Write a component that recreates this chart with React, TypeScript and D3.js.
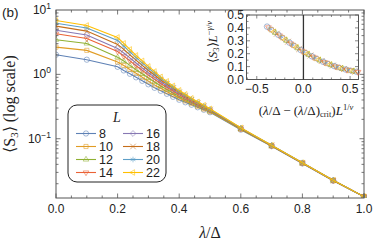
import * as d3 from "d3";

const sizes = [8, 10, 12, 14, 16, 18, 20, 22];
const colors = ["#5e81b5", "#e19c24", "#8fb032", "#eb6235", "#8778b3", "#c56e1a", "#5d9ec7", "#ffbf00"];

// lambda / Delta sample points
const lambdas = [0, 0.1, 0.2, 0.22, 0.24, 0.26, 0.28, 0.3, 0.32, 0.34, 0.36, 0.38, 0.4, 0.42, 0.44, 0.46, 0.48, 0.5, 0.6, 0.7, 0.8, 0.9, 1.0];

const s3L8 = [2.02, 1.69, 1.31, 1.15, 1.02, 0.899, 0.793, 0.7, 0.618, 0.555, 0.499, 0.448, 0.403, 0.368, 0.337, 0.308, 0.282, 0.258, 0.138, 0.0766, 0.0413, 0.0223, 0.0125];
const s3L10 = [2.65, 2.36, 1.56, 1.37, 1.19, 1.04, 0.902, 0.785, 0.687, 0.607, 0.537, 0.481, 0.428, 0.387, 0.352, 0.319, 0.29, 0.263, 0.14, 0.0771, 0.0415, 0.0224, 0.0126];
const s3L12 = [3.45, 3.02, 1.84, 1.61, 1.38, 1.18, 1.02, 0.877, 0.76, 0.661, 0.583, 0.513, 0.453, 0.407, 0.366, 0.33, 0.298, 0.269, 0.142, 0.0776, 0.0418, 0.0224, 0.0126];
const s3L14 = [4.27, 3.6, 2.27, 1.92, 1.62, 1.36, 1.16, 0.982, 0.843, 0.723, 0.631, 0.551, 0.481, 0.428, 0.38, 0.341, 0.307, 0.276, 0.144, 0.0781, 0.042, 0.0225, 0.0126];
const s3L16 = [4.86, 4.1, 2.53, 2.15, 1.8, 1.5, 1.26, 1.06, 0.905, 0.768, 0.666, 0.577, 0.502, 0.443, 0.391, 0.35, 0.313, 0.28, 0.145, 0.0784, 0.0421, 0.0226, 0.0126];
const s3L18 = [5.61, 4.7, 2.92, 2.45, 2.01, 1.66, 1.38, 1.15, 0.979, 0.819, 0.705, 0.609, 0.524, 0.459, 0.404, 0.359, 0.319, 0.284, 0.146, 0.0787, 0.0423, 0.0226, 0.0126];
const s3L20 = [6.24, 5.25, 3.37, 2.75, 2.23, 1.82, 1.51, 1.25, 1.05, 0.87, 0.744, 0.638, 0.545, 0.476, 0.414, 0.367, 0.325, 0.288, 0.147, 0.079, 0.0424, 0.0227, 0.0126];
const s3L22 = [6.87, 5.75, 3.75, 3.03, 2.44, 1.97, 1.62, 1.33, 1.11, 0.915, 0.779, 0.663, 0.565, 0.49, 0.425, 0.375, 0.331, 0.292, 0.148, 0.0793, 0.0425, 0.0227, 0.0126];
const allS3 = [s3L8, s3L10, s3L12, s3L14, s3L16, s3L18, s3L20, s3L22];

// inset: collapsed data
const insetX = [-0.39, -0.375, -0.36, -0.345, -0.33, -0.315, -0.3, -0.285, -0.27, -0.255, -0.24, -0.225, -0.21, -0.195, -0.18, -0.165, -0.15, -0.135, -0.12, -0.105, -0.09, -0.075, -0.06, -0.045, -0.03, -0.015, 0, 0.015, 0.03, 0.045, 0.06, 0.075, 0.09, 0.105, 0.12, 0.135, 0.15, 0.165, 0.18, 0.195, 0.21, 0.225, 0.24, 0.255, 0.27, 0.285, 0.3, 0.315, 0.33, 0.345, 0.36, 0.375, 0.39, 0.405, 0.42, 0.435, 0.45, 0.465, 0.48, 0.495, 0.51, 0.525, 0.54, 0.555, 0.57, 0.585];
const insetY = [0.41, 0.403, 0.395, 0.386, 0.378, 0.37, 0.362, 0.355, 0.347, 0.34, 0.332, 0.324, 0.316, 0.308, 0.301, 0.293, 0.286, 0.278, 0.271, 0.264, 0.257, 0.25, 0.243, 0.236, 0.229, 0.222, 0.216, 0.21, 0.204, 0.198, 0.192, 0.186, 0.18, 0.175, 0.169, 0.163, 0.158, 0.153, 0.148, 0.143, 0.138, 0.133, 0.129, 0.124, 0.12, 0.116, 0.112, 0.108, 0.104, 0.1, 0.097, 0.093, 0.09, 0.087, 0.084, 0.081, 0.078, 0.075, 0.073, 0.07, 0.068, 0.066, 0.064, 0.062, 0.06, 0.058];

const xTicks = [0, 0.2, 0.4, 0.6, 0.8, 1.0];
const insetXTicks = [-0.5, 0, 0.5];
const insetYTicks = [0, 0.1, 0.2, 0.3, 0.4, 0.5];

const W = 374;
const H = 244;
const SANS = "'Liberation Sans', Arial, sans-serif";
const SERIF = "'Liberation Serif', 'Times New Roman', serif";
const FRAME = "#555";

const symbolTypes = [
  { t: d3.symbolCircle, rot: 0 },
  { t: d3.symbolSquare2, rot: 0 },
  { t: d3.symbolTriangle2, rot: 0 },
  { t: d3.symbolTriangle2, rot: 180 },
  { t: d3.symbolDiamond2, rot: 0 },
  { t: d3.symbolTimes, rot: 0 },
  { t: d3.symbolAsterisk, rot: 0 },
  { t: d3.symbolTriangle2, rot: -90 },
];

function Marker({ i, x, y, size = 22 }: { i: number; x: number; y: number; size?: number }) {
  const s = symbolTypes[i];
  const d = d3.symbol().type(s.t).size(size)() as string;
  return (
    <path
      d={d}
      transform={`translate(${x},${y}) rotate(${s.rot})`}
      fill="none"
      stroke={colors[i]}
      strokeOpacity={0.7}
      strokeWidth={0.8}
    />
  );
}

export default function App() {
  const x = d3.scaleLinear().domain([0, 1]).range([56, 364]);
  const y = d3.scaleLog().domain([0.012, 10]).range([198, 10]);

  const line = d3
    .line<[number, number]>()
    .x((d) => x(d[0]))
    .y((d) => y(d[1]));

  const xMinor = d3.range(0, 1.0001, 0.05);
  const yMinor: number[] = [];
  [0.01, 0.1, 1].forEach((dec) => {
    for (let k = 1; k <= 9; k++) {
      const v = dec * k;
      if (v >= 0.012 && v <= 10) yMinor.push(v);
    }
  });
  const yMajor = [0.1, 1, 10];

  // inset scales
  const ix = d3.scaleLinear().domain([-0.61, 0.59]).range([246.5, 358.5]);
  const iy = d3.scaleLinear().domain([0, 0.5]).range([79.5, 15]);
  const ixMinor = d3.range(-0.6, 0.6, 0.1);
  const iyMinor = d3.range(0, 0.501, 0.05);

  const [x0, x1] = x.range();
  const [yb, yt] = y.range();

  return (
    <svg
      width={W}
      height={H}
      style={{ position: "fixed", left: 0, top: 0, background: "#fff" }}
      fontFamily={SANS}
    >
      <rect width={W} height={H} fill="#fff" />
      <text x={2} y={17} fontSize={13.5} fill="#222">(b)</text>

      <defs>
        <clipPath id="plotClip">
          <rect x={x0} y={yt - 3} width={x1 - x0 + 3} height={yb - yt + 3} />
        </clipPath>
      </defs>

      {/* data */}
      <g clipPath="url(#plotClip)">
        {allS3.map((vals, si) => {
          const pts = lambdas.map((l, k) => [l, vals[k]] as [number, number]);
          return (
            <g key={si}>
              <path d={line(pts) as string} fill="none" stroke={colors[si]} strokeWidth={1.1} />
              {pts.map((p, k) => (
                <Marker key={k} i={si} x={x(p[0])} y={y(p[1])} />
              ))}
            </g>
          );
        })}
      </g>

      {/* frame and ticks */}
      <rect x={x0} y={yt} width={x1 - x0} height={yb - yt} fill="none" stroke={FRAME} strokeWidth={1} />
      {xMinor.map((t, k) => {
        const major = xTicks.some((m) => Math.abs(m - t) < 1e-6);
        const len = major ? 4.5 : 2.5;
        return (
          <g key={k} stroke={FRAME} strokeWidth={0.8}>
            <line x1={x(t)} x2={x(t)} y1={yb} y2={yb - len} />
            <line x1={x(t)} x2={x(t)} y1={yt} y2={yt + len} />
          </g>
        );
      })}
      {xTicks.map((t) => (
        <text key={t} x={x(t)} y={213} textAnchor="middle" fontSize={12} fill="#222">
          {t.toFixed(1)}
        </text>
      ))}
      {yMinor.map((v, k) => {
        const major = yMajor.some((m) => Math.abs(m - v) < 1e-9);
        const len = major ? 4.5 : 2.5;
        return (
          <g key={k} stroke={FRAME} strokeWidth={0.8}>
            <line x1={x0} x2={x0 + len} y1={y(v)} y2={y(v)} />
            <line x1={x1} x2={x1 - len} y1={y(v)} y2={y(v)} />
          </g>
        );
      })}
      {yMajor.map((v) => (
        <text key={v} x={51} y={y(v) + 4} textAnchor="end" fontSize={12} fill="#222">
          10
          <tspan dy={-5} fontSize={8.5}>{Math.round(Math.log10(v)) < 0 ? "\u2212" + Math.abs(Math.round(Math.log10(v))) : Math.round(Math.log10(v))}</tspan>
        </text>
      ))}

      {/* axis labels */}
      <text x={x(0.5)} y={238} textAnchor="middle" fontSize={16} fontFamily={SERIF} fill="#222">
        <tspan fontStyle="italic">λ</tspan>/Δ
      </text>
      <text
        transform={`translate(15,${(yt + yb) / 2}) rotate(-90)`}
        textAnchor="middle"
        fontSize={16}
        fontFamily={SERIF}
        fill="#222"
      >
        ⟨S<tspan fontSize={11} dy={3}>3</tspan><tspan dy={-3}>⟩ (log scale)</tspan>
      </text>

      {/* legend */}
      <rect x={68} y={105} width={98} height={77} rx={9} fill="#fff" stroke="#222" strokeWidth={1} />
      <text x={117} y={122} textAnchor="middle" fontSize={14} fontFamily={SERIF} fontStyle="italic" fill="#222">
        L
      </text>
      {sizes.map((L, i) => {
        const col = Math.floor(i / 4);
        const row = i % 4;
        const lx = col === 0 ? 76 : 123;
        const ly = 133.5 + row * 13;
        return (
          <g key={L}>
            <line x1={lx} x2={lx + 20} y1={ly} y2={ly} stroke={colors[i]} strokeWidth={1.1} />
            <Marker i={i} x={lx + 10} y={ly} />
            <text x={lx + 23} y={ly + 4.5} fontSize={12.5} fill="#222">
              {L}
            </text>
          </g>
        );
      })}

      {/* inset */}
      <rect x={ix.range()[0]} y={iy.range()[1]} width={ix.range()[1] - ix.range()[0]} height={iy.range()[0] - iy.range()[1]} fill="#fff" stroke={FRAME} strokeWidth={1} />
      {ixMinor.map((t, k) => {
        const major = insetXTicks.some((m) => Math.abs(m - t) < 1e-6);
        const len = major ? 3.5 : 2;
        return (
          <g key={k} stroke={FRAME} strokeWidth={0.7}>
            <line x1={ix(t)} x2={ix(t)} y1={iy(0)} y2={iy(0) - len} />
            <line x1={ix(t)} x2={ix(t)} y1={iy(0.5)} y2={iy(0.5) + len} />
          </g>
        );
      })}
      {iyMinor.map((t, k) => {
        const major = Math.abs(t * 10 - Math.round(t * 10)) < 1e-6;
        const len = major ? 3.5 : 2;
        return (
          <g key={k} stroke={FRAME} strokeWidth={0.7}>
            <line x1={ix.range()[0]} x2={ix.range()[0] + len} y1={iy(t)} y2={iy(t)} />
            <line x1={ix.range()[1]} x2={ix.range()[1] - len} y1={iy(t)} y2={iy(t)} />
          </g>
        );
      })}
      <line x1={ix(0)} x2={ix(0)} y1={iy(0)} y2={iy(0.5)} stroke="#333" strokeWidth={1.3} />
      {insetX.map((v, k) => (
        <Marker key={k} i={(k * 3) % 8} x={ix(v)} y={iy(insetY[k])} size={24} />
      ))}
      {insetYTicks.map((t) => (
        <text key={t} x={244} y={iy(t) + 4} textAnchor="end" fontSize={12} fill="#222">
          {t.toFixed(1)}
        </text>
      ))}
      {insetXTicks.map((t) => (
        <text key={t} x={ix(t)} y={93} textAnchor="middle" fontSize={12} fill="#222">
          {t === 0 ? "0.0" : t < 0 ? "\u22120.5" : "0.5"}
        </text>
      ))}
      <text x={306} y={115} textAnchor="middle" fontSize={13} fontFamily={SERIF} fill="#222">
        (<tspan fontStyle="italic">λ</tspan>/Δ − (<tspan fontStyle="italic">λ</tspan>/Δ)
        <tspan fontSize={8.5} dy={2}>crit</tspan>
        <tspan dy={-2}>)</tspan>
        <tspan fontStyle="italic">L</tspan>
        <tspan fontSize={8.5} dy={-5}>1/</tspan>
        <tspan fontSize={8.5} fontStyle="italic">ν</tspan>
      </text>
      <text
        transform={`translate(217,${42}) rotate(-90)`}
        textAnchor="middle"
        fontSize={13}
        fontFamily={SERIF}
        fill="#222"
      >
        ⟨<tspan fontStyle="italic">S</tspan>
        <tspan fontSize={8.5} dy={2}>3</tspan>
        <tspan dy={-2}>⟩</tspan>
        <tspan fontStyle="italic">L</tspan>
        <tspan fontSize={8.5} dy={-5}>−</tspan>
        <tspan fontSize={8.5} fontStyle="italic">γ</tspan>
        <tspan fontSize={8.5}>/</tspan>
        <tspan fontSize={8.5} fontStyle="italic">ν</tspan>
      </text>
    </svg>
  );
}
